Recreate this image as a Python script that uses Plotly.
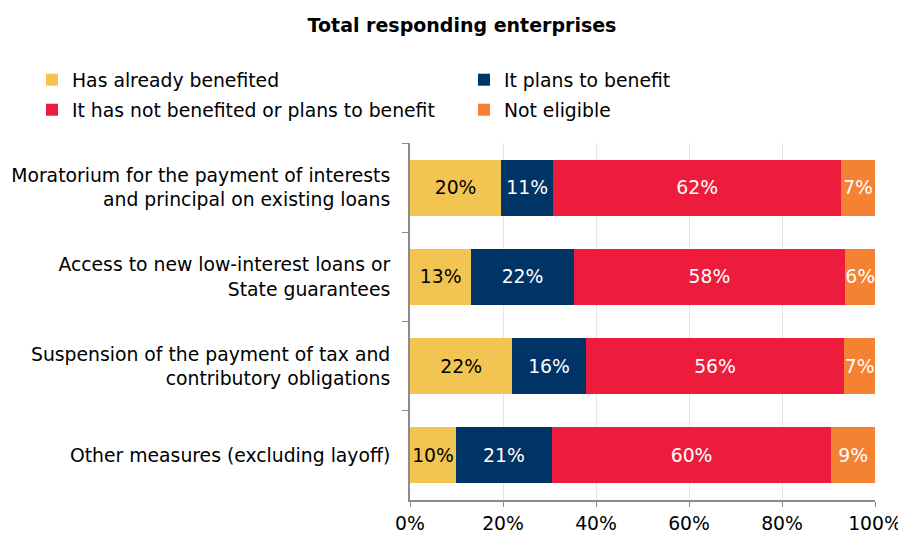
import plotly.graph_objects as go

categories = [
    "Moratorium for the payment of interests<br>and principal on existing loans",
    "Access to new low-interest loans or<br>State guarantees",
    "Suspension of the payment of tax and<br>contributory obligations",
    "Other measures (excluding layoff)",
]
series_names = [
    "Has already benefited",
    "It plans to benefit",
    "It has not benefited or plans to benefit",
    "Not eligible",
]
already = [19.6, 13.2, 22.0, 9.9]
plans = [11.2, 22.0, 15.8, 20.6]
not_benefited = [61.9, 58.4, 55.6, 60.1]
not_eligible = [7.3, 6.4, 6.6, 9.4]
colors = ["#F2C553", "#003466", "#EE1C3C", "#F58233"]
text_colors = ["#000000", "#FFFFFF", "#FFFFFF", "#FFFFFF"]
legend_rows = ["legend", "legend", "legend2", "legend2"]
x_ticks = [0, 20, 40, 60, 80, 100]
x_tick_labels = ["0%", "20%", "40%", "60%", "80%", "100%"]

FONT = "DejaVu Sans"
FS = 18.8
W, H = 898, 533          # page body has an 8px margin
L, R, T, B = 402, 31, 135, 41
PW, PH = W - L - R, H - T - B

fig = go.Figure()
for name, vals, col, tcol, lg in zip(series_names, [already, plans, not_benefited, not_eligible],
                                     colors, text_colors, legend_rows):
    fig.add_trace(go.Bar(
        y=categories, x=vals, name=name, orientation="h", legend=lg,
        marker=dict(color=col, line=dict(width=0)),
        texttemplate="%{x:.0f}%", textposition="inside", insidetextanchor="middle",
        textangle=0,
        textfont=dict(color=tcol, size=FS, family=FONT),
        constraintext="none",
    ))

legend_common = dict(orientation="h", x=(24 - L) / PW, xanchor="left", yanchor="top",
                     entrywidth=387, entrywidthmode="pixels", font=dict(size=FS, family=FONT),
                     itemwidth=30, traceorder="normal", bgcolor="rgba(0,0,0,0)")

fig.update_layout(
    barmode="stack", bargap=0.373,
    width=W, height=H,
    margin=dict(l=L, r=R, t=T, b=B, autoexpand=False),
    paper_bgcolor="white", plot_bgcolor="white",
    font=dict(family=FONT, size=FS, color="#000000"),
    title=dict(text="<b>Total responding enterprises</b>", x=454 / W, xanchor="center",
               y=1 - 17 / H, yanchor="middle", font=dict(size=19, family=FONT)),
    legend=dict(**legend_common, y=1 + (T - 53) / PH),
    legend2=dict(**legend_common, y=1 + (T - 83) / PH),
    uniformtext=dict(minsize=FS, mode="show"),
    showlegend=True,
)
fig.update_xaxes(range=[0, 100], tickvals=x_ticks, ticktext=x_tick_labels, showgrid=True,
                 gridcolor="#E6E6E6", gridwidth=1, showline=True, linecolor="#8C8C8C", linewidth=2,
                 ticks="outside", ticklen=5, tickcolor="#8C8C8C", zeroline=False,
                 tickfont=dict(size=FS, family=FONT))
fig.update_yaxes(autorange="reversed", showline=True, linecolor="#8C8C8C", linewidth=2,
                 ticks="outside", ticklen=6, tickcolor="#8C8C8C", tickson="boundaries",
                 tickfont=dict(size=FS, family=FONT), ticklabelstandoff=14)

fig.write_html("out.html")
